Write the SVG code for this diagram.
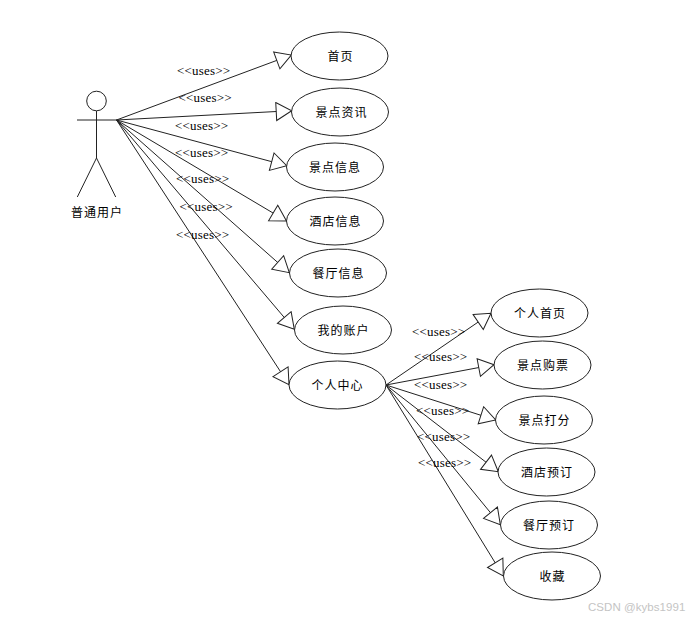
<svg xmlns="http://www.w3.org/2000/svg" width="698" height="620" viewBox="0 0 698 620">
<style>
.bg{fill:#fff}
.n ellipse{fill:#fff;stroke:#222;stroke-width:1}
.n text{font:12px "Noto Sans CJK SC","Liberation Sans",sans-serif;letter-spacing:1px;fill:#000;text-anchor:middle}
.a{fill:none;stroke:#222;stroke-width:1}
#connectors line{stroke:#222;stroke-width:1;marker-end:url(#tri)}
.u{font:13px "Liberation Serif",serif;letter-spacing:.2px;fill:#000}
.wm{font:11.5px "Liberation Sans",sans-serif;fill:#c4c4c4;letter-spacing:.05px}
</style>
<defs>
<marker id="tri" markerUnits="userSpaceOnUse" markerWidth="20" markerHeight="22" refX="17" refY="10" orient="auto">
<path d="M1.5,1 L17,10 L1.5,19 Z" fill="#fff" stroke="#222" stroke-width="1"/>
</marker>
</defs>
<rect class="bg" width="698" height="620"/>
<g id="connectors">
<line x1="116.5" y1="120" x2="291.3" y2="55"/>
<line x1="116.5" y1="120" x2="291.7" y2="110.7"/>
<line x1="116.5" y1="120" x2="286.7" y2="165.7"/>
<line x1="116.5" y1="120" x2="286.5" y2="221"/>
<line x1="116.5" y1="120" x2="289.3" y2="272.7"/>
<line x1="116.5" y1="120" x2="294.3" y2="329.3"/>
<line x1="116.5" y1="120" x2="289" y2="384.7"/>
<line x1="386" y1="385" x2="491" y2="313.3"/>
<line x1="386" y1="385" x2="494" y2="364.7"/>
<line x1="386" y1="385" x2="495.7" y2="420"/>
<line x1="386" y1="385" x2="498.3" y2="471.7"/>
<line x1="386" y1="385" x2="500.3" y2="524.7"/>
<line x1="386" y1="385" x2="503.3" y2="576"/>
</g>
<g id="connector-labels">
<text class="u" x="177" y="75">&lt;&lt;uses&gt;&gt;</text>
<text class="u" x="178.5" y="102">&lt;&lt;uses&gt;&gt;</text>
<text class="u" x="175" y="130">&lt;&lt;uses&gt;&gt;</text>
<text class="u" x="175" y="157">&lt;&lt;uses&gt;&gt;</text>
<text class="u" x="176" y="183">&lt;&lt;uses&gt;&gt;</text>
<text class="u" x="179.5" y="211">&lt;&lt;uses&gt;&gt;</text>
<text class="u" x="176" y="239">&lt;&lt;uses&gt;&gt;</text>
<text class="u" x="412" y="336">&lt;&lt;uses&gt;&gt;</text>
<text class="u" x="414" y="361">&lt;&lt;uses&gt;&gt;</text>
<text class="u" x="414" y="389">&lt;&lt;uses&gt;&gt;</text>
<text class="u" x="416" y="415">&lt;&lt;uses&gt;&gt;</text>
<text class="u" x="417" y="441">&lt;&lt;uses&gt;&gt;</text>
<text class="u" x="418" y="467">&lt;&lt;uses&gt;&gt;</text>
</g>
<g id="actor" class="n">
<circle class="a" cx="96.5" cy="101" r="9.8"/>
<path class="a" d="M77,120H116.5M96.5,111V158M77.3,197L96.5,158L115.7,197"/>
<text x="97" y="217">普通用户</text>
</g>
<g id="n1" class="n"><ellipse cx="339.5" cy="56" rx="48.5" ry="24"/><text x="340.5" y="60.5">首页</text></g>
<g id="n2" class="n"><ellipse cx="340" cy="112" rx="48.5" ry="24"/><text x="341.5" y="116.5">景点资讯</text></g>
<g id="n3" class="n"><ellipse cx="335" cy="167" rx="48.5" ry="24"/><text x="335" y="172">景点信息</text></g>
<g id="n4" class="n"><ellipse cx="335" cy="221" rx="48.5" ry="24"/><text x="335.5" y="226">酒店信息</text></g>
<g id="n5" class="n"><ellipse cx="338" cy="273" rx="48.5" ry="24"/><text x="338.5" y="278">餐厅信息</text></g>
<g id="n6" class="n"><ellipse cx="343" cy="330" rx="48.5" ry="24"/><text x="343.5" y="335">我的账户</text></g>
<g id="n7" class="n"><ellipse cx="337.5" cy="385" rx="48.5" ry="24"/><text x="337.5" y="390">个人中心</text></g>
<g id="n8" class="n"><ellipse cx="539.5" cy="313" rx="48.5" ry="24"/><text x="540" y="318">个人首页</text></g>
<g id="n9" class="n"><ellipse cx="542.5" cy="365" rx="48.5" ry="24"/><text x="543" y="370">景点购票</text></g>
<g id="n10" class="n"><ellipse cx="544" cy="420" rx="48.5" ry="24"/><text x="544.5" y="425">景点打分</text></g>
<g id="n11" class="n"><ellipse cx="546.5" cy="472" rx="48.5" ry="24"/><text x="547" y="477">酒店预订</text></g>
<g id="n12" class="n"><ellipse cx="549" cy="525" rx="48.5" ry="24"/><text x="549" y="530">餐厅预订</text></g>
<g id="n13" class="n"><ellipse cx="552" cy="576" rx="48.5" ry="24"/><text x="552.5" y="581">收藏</text></g>
<text class="wm" x="588" y="610.5">CSDN @kybs1991</text>
</svg>
